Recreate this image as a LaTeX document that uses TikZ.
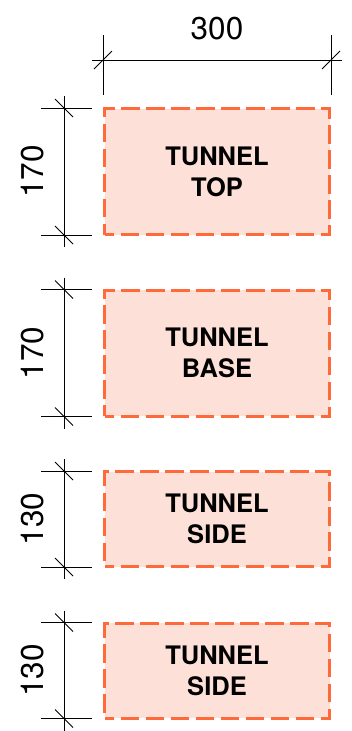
\documentclass[tikz,border=0pt]{standalone}
\usepackage{fontspec}
\setmainfont{TeX Gyre Heros}
\usepackage{tikz}
\definecolor{tunnelline}{HTML}{FF6A3A}
\definecolor{tunnelfill}{HTML}{FDE0D7}

\begin{document}
\begin{tikzpicture}[x=1pt,y=-1pt,
  tbox/.style={draw=tunnelline, fill=tunnelfill, line width=3pt, dash pattern=on 18.5pt off 6.5pt, dash phase=9pt,
    minimum width=225pt, align=center, font=\bfseries\fontsize{25.5}{31}\selectfont},
  dimline/.style={line width=0.7pt},
  dimtick/.style={line width=0.9pt},
  dimtext/.style={font=\fontsize{31.5}{31.5}\selectfont}]
\useasboundingbox (0,0) rectangle (351,731);

\node[tbox, minimum height=126pt](top) at (217,171.5) {TUNNEL\\TOP};
\node[tbox, minimum height=126pt](base) at (217,353) {TUNNEL\\BASE};
\node[tbox, minimum height=95pt](sidea) at (217,519) {TUNNEL\\SIDE};
\node[tbox, minimum height=95pt](sideb) at (217,670.5) {TUNNEL\\SIDE};

% width
\coordinate (w1) at (103,60);
\coordinate (w2) at (331,60);
\draw[dimline] (103,35) -- (103,95);
\draw[dimline] (331,35) -- (331,95);
\path[dimline] (92,60) edge (342,60);
\draw[dimtick] (w1) ++(-9,9) -- ++(18,-18);
\draw[dimtick] (w2) ++(-9,9) -- ++(18,-18);
\node[dimtext](wlabel) at (217,29) {300};

% heights
\coordinate (t1) at (64,108);   \coordinate (b1) at (64,235);
\coordinate (t2) at (64,289.5); \coordinate (b2) at (64,416.5);
\coordinate (t3) at (64,471);   \coordinate (b3) at (64,567);
\coordinate (t4) at (64,622.5); \coordinate (b4) at (64,718.5);

\draw[dimline] (41,108) -- (92,108);   \draw[dimline] (41,235) -- (92,235);
\draw[dimline] (41,289.5) -- (92,289.5); \draw[dimline] (41,416.5) -- (92,416.5);
\draw[dimline] (41,471) -- (92,471);   \draw[dimline] (41,567) -- (92,567);
\draw[dimline] (41,622.5) -- (92,622.5); \draw[dimline] (41,718.5) -- (92,718.5);

\path[dimline] (t1) ++(0,-12) edge ([yshift=-12pt]b1);
\path[dimline] (t2) ++(0,-12) edge ([yshift=-12pt]b2);
\path[dimline] (t3) ++(0,-12) edge ([yshift=-12pt]b3);
\path[dimline] (t4) ++(0,-12) edge ([yshift=-12pt]b4);

\draw[dimtick] (t1) ++(-9,-9) -- ++(18,18);  \draw[dimtick] (b1) ++(-9,-9) -- ++(18,18);
\draw[dimtick] (t2) ++(-9,-9) -- ++(18,18);  \draw[dimtick] (b2) ++(-9,-9) -- ++(18,18);
\draw[dimtick] (t3) ++(-9,-9) -- ++(18,18);  \draw[dimtick] (b3) ++(-9,-9) -- ++(18,18);
\draw[dimtick] (t4) ++(-9,-9) -- ++(18,18);  \draw[dimtick] (b4) ++(-9,-9) -- ++(18,18);

\node[dimtext, rotate=90](hlabel1) at (33,171.5) {170};
\node[dimtext, rotate=90](hlabel2) at (33,353) {170};
\node[dimtext, rotate=90](hlabel3) at (33,519) {130};
\node[dimtext, rotate=90](hlabel4) at (33,670.5) {130};
\end{tikzpicture}
\end{document}
